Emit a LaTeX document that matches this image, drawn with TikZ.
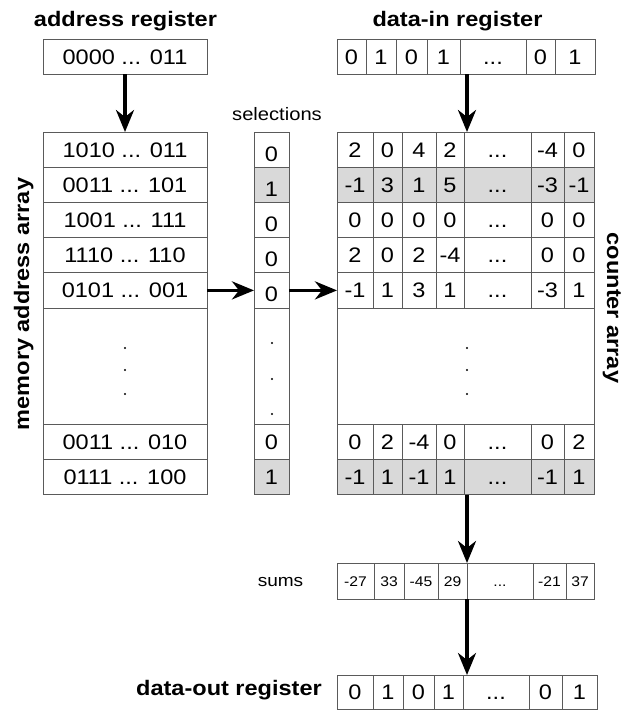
\documentclass[tikz,border=0pt]{standalone}
\usepackage{fontspec}
\setmainfont{Liberation Sans}[FakeStretch=1.12]
\usetikzlibrary{arrows.meta}
\definecolor{cellgray}{HTML}{D9D9D9}
\definecolor{edgegray}{HTML}{5A5A5A}
\newcommand\el{...}
\newcommand\cellbox[7]{\node[cellb,#6,minimum width={(#4-#2)*1pt},minimum height={(#5-#3)*1pt}] (#1) at ({(#2+#4)/2},{(#3+#5)/2}) {#7};}
\newcommand\crow[4]{\def\rid{#1}\def\ya{#2}\def\yb{#3}\def\rst{#4}\crowvals}
\newcommand\crowvals[6]{%
  \cellbox{c\rid-1}{337}{\ya}{373}{\yb}{\rst}{#1}
  \cellbox{c\rid-2}{373}{\ya}{402}{\yb}{\rst}{#2}
  \cellbox{c\rid-3}{402}{\ya}{436}{\yb}{\rst}{#3}
  \cellbox{c\rid-4}{436}{\ya}{464}{\yb}{\rst}{#4}
  \cellbox{c\rid-5}{464}{\ya}{531}{\yb}{\rst}{\el}
  \cellbox{c\rid-6}{531}{\ya}{564}{\yb}{\rst}{#5}
  \cellbox{c\rid-7}{564}{\ya}{594}{\yb}{\rst}{#6}}
\tikzset{
  cellb/.style={draw=edgegray, line width=1pt, inner sep=0pt, outer sep=0pt,
    font=\fontsize{21}{24}\selectfont, text height=15pt, text depth=0pt},
  hl/.style={fill=cellgray},
  smalltxt/.style={font=\fontsize{14}{16}\selectfont, text height=10pt},
  seltop/.style={text height=23pt},
  title/.style={font=\bfseries\fontsize{21}{24}\selectfont, inner sep=0pt, anchor=base},
  lbl/.style={inner sep=0pt, anchor=base},
  arr/.style={line width=3.5pt, -{Stealth[length=22pt,width=18pt,inset=7pt]}},
}
\begin{document}
\begin{tikzpicture}[x=1pt,y=-1pt]
\path[use as bounding box, fill=white] (0,0) rectangle (624,710);

% titles
\node[title] (t-addr) at (125.5,26.5) {address register};
\node[title] (t-din) at (457.5,26.5) {data-in register};
\node[title] (t-dout) at (229,695) {data-out register};
\node[title,rotate=90] (t-mem) at (29,304) {memory address array};
\node[title,rotate=-90] (t-ctr) at (607,308) {counter array};
\node[lbl,font=\fontsize{18}{20}\selectfont] (t-sel) at (277,120) {selections};
\node[lbl,font=\fontsize{17}{20}\selectfont] (t-sums) at (280.5,586.5) {sums};

% address register
\cellbox{addr}{43}{39}{207}{74}{}{0000 ... 011}

% data-in register
\cellbox{din-1}{337}{39}{366}{74}{}{0}
\cellbox{din-2}{366}{39}{396}{74}{}{1}
\cellbox{din-3}{396}{39}{427}{74}{}{0}
\cellbox{din-4}{427}{39}{460}{74}{}{1}
\cellbox{din-5}{460}{39}{526}{74}{}{\el}
\cellbox{din-6}{526}{39}{555}{74}{}{0}
\cellbox{din-7}{555}{39}{595}{74}{}{1}

% memory address array
\cellbox{m1}{43}{132}{207}{167.2}{}{1010 ... 011}
\cellbox{m2}{43}{167.2}{207}{202.4}{}{0011 ... 101}
\cellbox{m3}{43}{202.4}{207}{237.6}{}{1001 ... 111}
\cellbox{m4}{43}{237.6}{207}{272.8}{}{1110 ... 110}
\cellbox{m5}{43}{272.8}{207}{308}{}{0101 ... 001}
\cellbox{md}{43}{308}{207}{424.5}{}{}
\cellbox{m6}{43}{424.5}{207}{459.5}{}{0011 ... 010}
\cellbox{m7}{43}{459.5}{207}{494.5}{}{0111 ... 100}

% selections
\cellbox{s1}{254}{132}{289}{167.2}{seltop}{0}
\cellbox{s2}{254}{167.2}{289}{202.4}{seltop,hl}{1}
\cellbox{s3}{254}{202.4}{289}{237.6}{seltop}{0}
\cellbox{s4}{254}{237.6}{289}{272.8}{seltop}{0}
\cellbox{s5}{254}{272.8}{289}{308}{seltop}{0}
\cellbox{sd}{254}{308}{289}{424.5}{}{}
\cellbox{s6}{254}{424.5}{289}{459.5}{}{0}
\cellbox{s7}{254}{459.5}{289}{494.5}{hl}{1}

% counter array
\crow{1}{132}{167.2}{}{2}{0}{4}{2}{-4}{0}
\crow{2}{167.2}{202.4}{hl}{-1}{3}{1}{5}{-3}{-1}
\crow{3}{202.4}{237.6}{}{0}{0}{0}{0}{0}{0}
\crow{4}{237.6}{272.8}{}{2}{0}{2}{-4}{0}{0}
\crow{5}{272.8}{308}{}{-1}{1}{3}{1}{-3}{1}
\cellbox{cd}{337}{308}{594}{424.5}{}{}
\crow{6}{424.5}{459.5}{}{0}{2}{-4}{0}{0}{2}
\crow{7}{459.5}{494.5}{hl}{-1}{1}{-1}{1}{-1}{1}

% dots
\foreach \yy in {348,370,394} {\fill (125,\yy) circle (1.2pt); \fill (467,\yy) circle (1.2pt);}
\foreach \yy in {343,379,414} {\fill (272,\yy) circle (1.2pt);}

% sums
\cellbox{u1}{337}{563}{374}{599}{smalltxt}{-27}
\cellbox{u2}{374}{563}{404}{599}{smalltxt}{33}
\cellbox{u3}{404}{563}{438}{599}{smalltxt}{-45}
\cellbox{u4}{438}{563}{467}{599}{smalltxt}{29}
\cellbox{u5}{467}{563}{533}{599}{smalltxt}{\el}
\cellbox{u6}{533}{563}{566}{599}{smalltxt}{-21}
\cellbox{u7}{566}{563}{594}{599}{smalltxt}{37}

% data-out register
\cellbox{o1}{337}{675}{373}{709}{}{0}
\cellbox{o2}{373}{675}{403}{709}{}{1}
\cellbox{o3}{403}{675}{434}{709}{}{0}
\cellbox{o4}{434}{675}{463}{709}{}{1}
\cellbox{o5}{463}{675}{529}{709}{}{\el}
\cellbox{o6}{529}{675}{562}{709}{}{0}
\cellbox{o7}{562}{675}{597}{709}{}{1}

% arrows
\coordinate (ain) at ([xshift=3pt]c1-5.north west);
\draw[arr] (addr.south) -- (m1.north);
\draw[arr] (ain |- din-5.south) -- (ain);
\draw[arr] (m5.east) -- (s5.west);
\draw[arr] (s5.east) -- (c5-1.west);
\draw[arr] (u5.north west |- c7-5.south) -- (u5.north west);
\draw[arr] (u5.south west) -- (u5.south west |- o5.north);
\end{tikzpicture}
\end{document}
